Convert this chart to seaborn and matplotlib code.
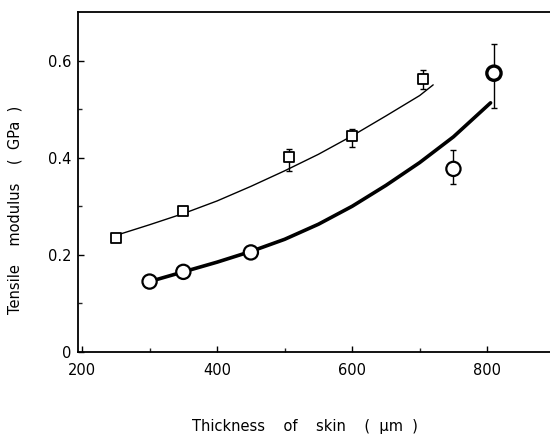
import numpy as np
import pandas as pd
import matplotlib
matplotlib.use("Agg")
import matplotlib.pyplot as plt
import seaborn as sns

# ---- data ----
sq_x = [250, 350, 507, 600, 705]
sq_y = [0.235, 0.290, 0.402, 0.445, 0.563]
sq_lo = [0.0, 0.0, 0.029, 0.023, 0.022]
sq_hi = [0.0, 0.0, 0.016, 0.014, 0.017]

ci_x = [300, 350, 450, 750, 810]
ci_y = [0.145, 0.165, 0.205, 0.377, 0.574]
ci_lo = [0.0, 0.0, 0.0, 0.031, 0.072]
ci_hi = [0.0, 0.0, 0.0, 0.039, 0.061]

# fitted curves
sq_curve_x = [250, 300, 350, 400, 450, 500, 550, 600, 650, 700, 720]
sq_curve_y = [0.240, 0.262, 0.285, 0.311, 0.341, 0.373, 0.407, 0.445, 0.486, 0.528, 0.550]
ci_curve_x = [300, 350, 400, 450, 500, 550, 600, 650, 700, 750, 805]
ci_curve_y = [0.145, 0.165, 0.185, 0.207, 0.232, 0.263, 0.300, 0.343, 0.390, 0.443, 0.513]

xticks = [200, 400, 600, 800]
yticks = [0, 0.2, 0.4, 0.6]
ytick_labels = ["0", "0.2", "0.4", "0.6"]

sns.set_style("ticks")
plt.rcParams['font.family'] = ['DejaVu Sans']
plt.rcParams['text.color'] = 'black'
plt.rcParams['axes.labelcolor'] = 'black'

fig = plt.figure(figsize=(5.5, 4.37), dpi=100)
ax = fig.add_axes([78/550, (437-352)/437, 472/550, (352-12)/437])

sq_df = pd.DataFrame({"x": sq_x, "y": sq_y})
ci_df = pd.DataFrame({"x": ci_x, "y": ci_y})
sqc = pd.DataFrame({"x": sq_curve_x, "y": sq_curve_y})
cic = pd.DataFrame({"x": ci_curve_x, "y": ci_curve_y})

sns.lineplot(data=sqc, x="x", y="y", ax=ax, color="black", lw=1.0, zorder=2)
sns.lineplot(data=cic, x="x", y="y", ax=ax, color="black", lw=2.6, zorder=2)

ax.errorbar(sq_x, sq_y, yerr=[sq_lo, sq_hi], fmt="none", ecolor="black",
            elinewidth=1.0, capsize=2.5, capthick=1.0, zorder=3)
ax.errorbar(ci_x, ci_y, yerr=[ci_lo, ci_hi], fmt="none", ecolor="black",
            elinewidth=1.0, capsize=2.5, capthick=1.0, zorder=3)

sns.scatterplot(data=sq_df, x="x", y="y", ax=ax, marker="s", s=60,
                facecolor="white", edgecolor="black", linewidth=1.3, zorder=4)
sns.scatterplot(data=ci_df, x="x", y="y", ax=ax, marker="o", s=105,
                facecolor="white", edgecolor="black",
                linewidth=[1.6, 1.6, 1.6, 1.6, 2.4], zorder=4)

ax.set_xlim(194, 893)
ax.set_ylim(0, 0.7)
ax.set_xticks(xticks)
ax.set_xticks([300, 500, 700], minor=True)
ax.set_yticks(yticks)
ax.set_yticklabels(ytick_labels)
ax.set_yticks([0.1, 0.3, 0.5], minor=True)
ax.tick_params(direction="in", length=4, width=1, labelsize=10.5, colors="black")
ax.tick_params(axis="x", pad=8)
ax.tick_params(axis="y", pad=5)
ax.tick_params(which="minor", direction="in", length=3, width=1)
ax.spines["right"].set_visible(False)
for s in ["left", "bottom", "top"]:
    ax.spines[s].set_linewidth(1.3)
    ax.spines[s].set_color("black")

ax.set_xlabel("Thickness    of    skin    (  \u03bcm  )", fontsize=10.5, color="black")
ax.set_ylabel("Tensile    modulus    (  GPa  )", fontsize=10.5, color="black")
ax.xaxis.set_label_coords((305-78)/472, -(419-352)/340)
ax.yaxis.set_label_coords(-(78-23)/472, (352-210)/340)

fig.savefig("out.png", dpi=100)
